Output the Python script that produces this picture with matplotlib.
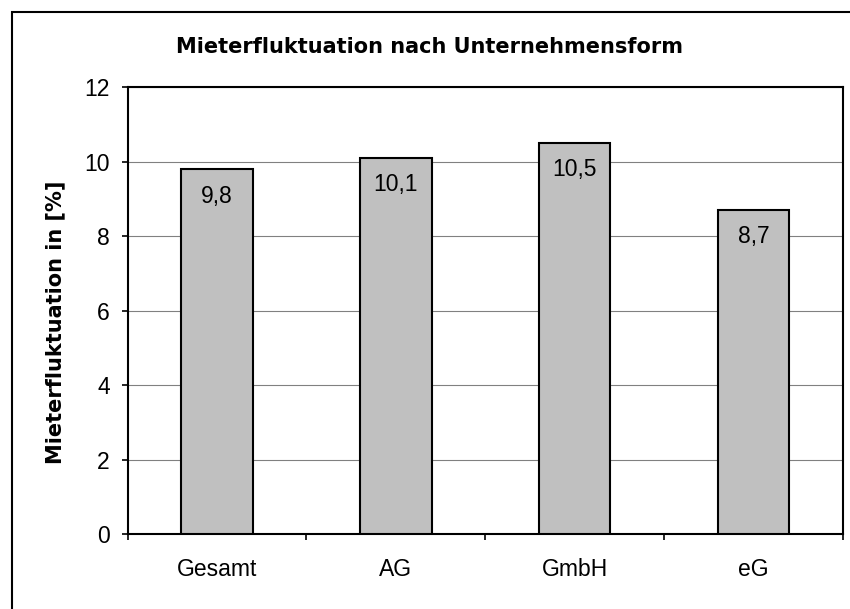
import matplotlib
matplotlib.use("Agg")
import matplotlib.pyplot as plt
from matplotlib.patches import Rectangle

categories = ["Gesamt", "AG", "GmbH", "eG"]
values = [9.8, 10.1, 10.5, 8.7]
value_labels = ["9,8", "10,1", "10,5", "8,7"]
yticks = [0, 2, 4, 6, 8, 10, 12]
title = "Mieterfluktuation nach Unternehmensform"
ylabel = "Mieterfluktuation in [%]"

plt.rcParams['font.family'] = ['Liberation Sans', 'DejaVu Sans']

W, H = 850, 609
DPI = 100
fig = plt.figure(figsize=(W / DPI, H / DPI), dpi=DPI)

# outer chart border
fig.patches.append(Rectangle((12 / W, -0.01), 1.2, (H - 12) / H + 0.01,
                             transform=fig.transFigure, fill=False,
                             edgecolor='black', linewidth=1.5))

left, right, top, bottom = 127.7, 842.7, 87.3, 534.0
ax = fig.add_axes([left / W, 1 - bottom / H, (right - left) / W, (bottom - top) / H])

x = list(range(len(categories)))
ax.bar(x, values, width=0.40, color='#C0C0C0', edgecolor='black', linewidth=1.5, zorder=3)

ax.set_xlim(-0.5, len(categories) - 0.5)
ax.set_ylim(0, 12)
ax.set_yticks(yticks)
ax.set_yticklabels([str(t) for t in yticks], fontsize=16.5)
ax.yaxis.grid(True, color='#808080', linewidth=0.8, zorder=0)
ax.set_axisbelow(True)

ax.set_xticks(x)
ax.set_xticklabels(categories, fontsize=16.5)
ax.tick_params(axis='x', which='major', length=0, pad=17)
ax.set_xticks([i - 0.5 for i in range(len(categories) + 1)], minor=True)
ax.tick_params(axis='x', which='minor', length=4.5, width=1.2, direction='out')
ax.tick_params(axis='y', length=4, width=1.2, direction='out', pad=9)

for s in ax.spines.values():
    s.set_linewidth(1.5)
    s.set_color('black')

for xi, v, lab in zip(x, values, value_labels):
    ax.annotate(lab, (xi, v), xytext=(0, -24), textcoords='offset points',
                ha='center', va='baseline', fontsize=16.5, zorder=4)

fig.text(429 / W, 1 - 52.7 / H, title, ha='center', va='baseline',
         fontsize=15, fontweight='bold', family='DejaVu Sans')
fig.text(55 / W, 1 - 322 / H, ylabel, ha='center', va='center', rotation=90,
         fontsize=15, fontweight='bold', family='DejaVu Sans')

fig.savefig("out.png", dpi=DPI)
